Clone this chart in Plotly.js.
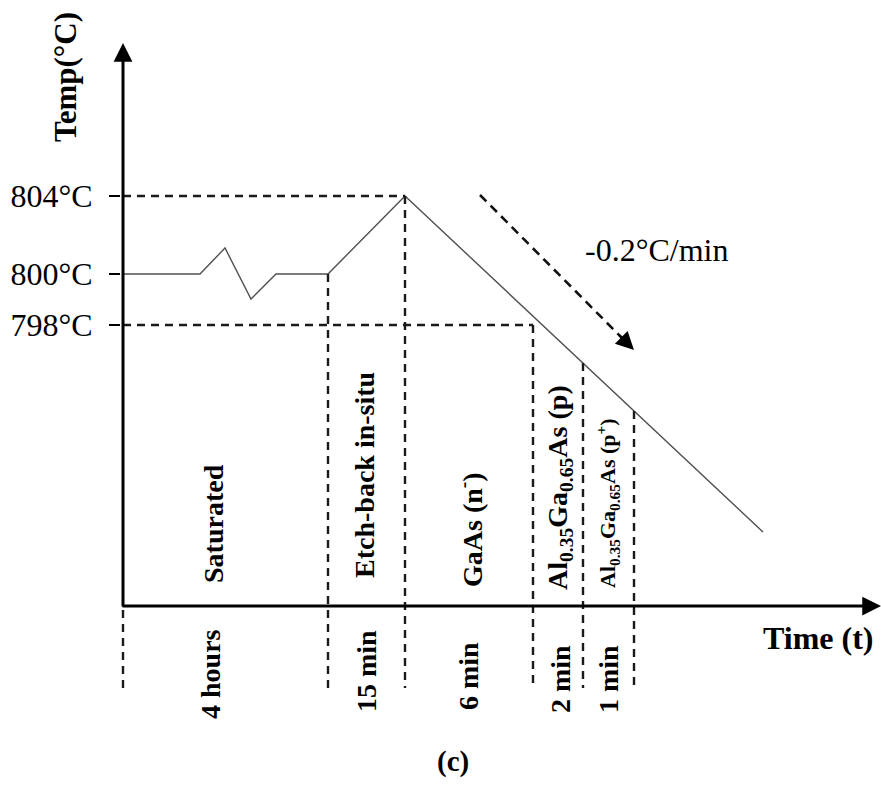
<!DOCTYPE html>
<html>
<head>
<meta charset="utf-8">
<script src="https://cdn.plot.ly/plotly-3.0.1.min.js"></script>
<style>html,body{margin:0;padding:0;background:#fff;}#chart{width:881px;height:785px;}</style>
</head>
<body>
<div id="chart"></div>
<script>
// ---- schematic data (time positions and temperature levels in schematic units) ----
const profileTime = [0, 77, 102, 128, 153, 205, 282, 640];
const profileTemp = [332, 332, 358, 307, 332, 332, 410, 74];

const levelLabels = ['798°C', '800°C', '804°C'];
const levelValues = [281, 332, 410];

const stageBounds = [0, 205, 282, 410, 460, 511];
const stageNames = [
  'Saturated',
  'Etch-back in-situ',
  'GaAs (n<sup>-</sup>)',
  'Al<sub>0.35</sub>Ga<sub>0.65</sub>As (p)',
  'Al<sub>0.35</sub>Ga<sub>0.65</sub>As (p<sup>+</sup>)'
];
const stageDurations = ['4 hours', '15 min', '6 min', '2 min', '1 min'];
const coolingRate = '-0.2°C/min';

// ---- layout constants ----
const XMIN = -2, XMAX = 758, YMIN = -179, YMAX = 563, GUIDE_BOTTOM = -82;
const nameX = [90, 241, 347, 436, 484];
const nameY = [82, 131, 76, 118, 103];
const durX = [87, 243, 345, 437, 485];
const durY = [-68, -65, -70, -73, -73];
const serif = 'Liberation Serif, Times New Roman, serif';

function tempAt(t) {
  for (let i = 0; i < profileTime.length - 1; i++) {
    const a = profileTime[i], b = profileTime[i + 1];
    if (t >= a && t <= b) {
      return profileTemp[i] + (profileTemp[i + 1] - profileTemp[i]) * (t - a) / (b - a);
    }
  }
  return profileTemp[profileTemp.length - 1];
}

const dashStyle = {color: '#1a1a1a', width: 2.4, dash: '8px,6px'};
const traces = [];

// temperature profile
traces.push({x: profileTime, y: profileTemp, mode: 'lines', type: 'scatter',
  line: {color: '#505050', width: 1.4}, hoverinfo: 'skip', showlegend: false});

// horizontal guides: 804 to peak, 798 to end of GaAs stage
traces.push({x: [0, stageBounds[2]], y: [levelValues[2], levelValues[2]], mode: 'lines',
  line: dashStyle, hoverinfo: 'skip', showlegend: false});
traces.push({x: [0, stageBounds[3]], y: [levelValues[0], levelValues[0]], mode: 'lines',
  line: dashStyle, hoverinfo: 'skip', showlegend: false});

// vertical guides
stageBounds.forEach((t, i) => {
  let top;
  if (i === 0) top = -4;
  else if (i === 3) top = levelValues[0];
  else top = tempAt(t);
  traces.push({x: [t, t], y: [top, GUIDE_BOTTOM], mode: 'lines', line: dashStyle,
    hoverinfo: 'skip', showlegend: false});
});

// dashed cooling arrow shaft
traces.push({x: [357, 503], y: [411, 264], mode: 'lines',
  line: {color: '#111', width: 2.6, dash: '9px,6px'}, hoverinfo: 'skip', showlegend: false});

const annotations = [];
// axes arrows
annotations.push({x: 0, y: YMAX, ax: 0, ay: -2, xref: 'x', yref: 'y', axref: 'x', ayref: 'y',
  text: '', showarrow: true, arrowhead: 2, arrowsize: 1.25, arrowwidth: 3, arrowcolor: '#000', standoff: 0});
annotations.push({x: XMAX, y: 0, ax: -2, ay: 0, xref: 'x', yref: 'y', axref: 'x', ayref: 'y',
  text: '', showarrow: true, arrowhead: 2, arrowsize: 1.25, arrowwidth: 3, arrowcolor: '#000', standoff: 0});
// cooling arrow head
annotations.push({x: 511, y: 256, ax: 495, ay: 272, xref: 'x', yref: 'y', axref: 'x', ayref: 'y',
  text: '', showarrow: true, arrowhead: 2, arrowsize: 1.5, arrowwidth: 2.4, arrowcolor: '#000', standoff: 0});

// titles
annotations.push({x: -0.0737, y: 0.954, xref: 'paper', yref: 'paper', xanchor: 'center', yanchor: 'middle',
  text: '<b>Temp(°C)</b>', textangle: -90,
  showarrow: false, font: {family: serif, size: 31, color: '#000'}});
annotations.push({x: 695, y: -32, xref: 'x', yref: 'y', text: '<b>Time (t)</b>',
  showarrow: false, font: {family: serif, size: 32, color: '#000'}});
annotations.push({x: 533, y: 356, xref: 'x', yref: 'y', text: coolingRate,
  showarrow: false, font: {family: serif, size: 32, color: '#000'}});
annotations.push({x: 330, y: -155, xref: 'x', yref: 'y', text: '<b>(c)</b>',
  showarrow: false, font: {family: serif, size: 29, color: '#000'}});

stageNames.forEach((n, i) => {
  annotations.push({x: nameX[i], y: nameY[i], xref: 'x', yref: 'y', text: '<b>' + n + '</b>',
    textangle: -90, showarrow: false,
    font: {family: serif, size: i === 4 ? 22 : 28, color: '#000'}});
});
stageDurations.forEach((d, i) => {
  annotations.push({x: durX[i], y: durY[i], xref: 'x', yref: 'y', text: '<b>' + d + '</b>',
    textangle: -90, showarrow: false, font: {family: serif, size: 28, color: '#000'}});
});

const layout = {
  width: 881, height: 785,
  margin: {l: 121, r: 0, t: 43, b: 0, pad: 0},
  paper_bgcolor: '#fff', plot_bgcolor: '#fff',
  showlegend: false,
  xaxis: {range: [XMIN, XMAX], visible: false, fixedrange: true},
  yaxis: {range: [YMIN, YMAX], showgrid: false, zeroline: false, showline: false,
    tickmode: 'array', tickvals: levelValues, ticktext: levelLabels,
    ticks: 'outside', ticklen: 11, tickwidth: 2, tickcolor: '#000',
    ticklabelstandoff: 10,
    tickfont: {family: serif, size: 32, color: '#000'}, fixedrange: true},
  annotations: annotations
};

Plotly.newPlot('chart', traces, layout, {displayModeBar: false, staticPlot: true});
</script>
</body>
</html>
